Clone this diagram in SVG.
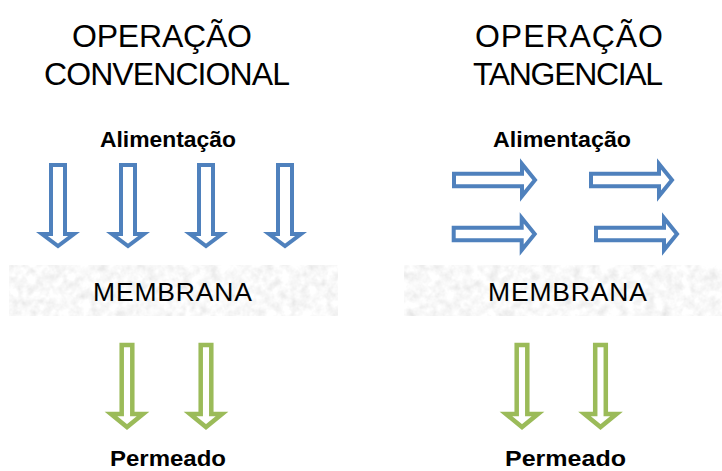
<svg xmlns="http://www.w3.org/2000/svg" width="722" height="471" viewBox="0 0 722 471">
<style>
.title{font-family:"Liberation Sans",Arial,sans-serif;font-size:32px;fill:#000}
.lbl{font-family:"Liberation Sans",Arial,sans-serif;font-size:22px;font-weight:bold;fill:#000}
.mem{font-family:"Liberation Sans",Arial,sans-serif;font-size:26.5px;fill:#000}
.blue{fill:#fff;stroke:#4f81bd;stroke-width:4;stroke-linejoin:miter}
.green{fill:#fff;stroke:#9bbb59;stroke-width:4.5;stroke-linejoin:miter}
.membrane{fill:#eaeaea}
</style>
<defs>
<filter id="grain" x="0" y="0" width="100%" height="100%">
<feTurbulence type="fractalNoise" baseFrequency="0.11" numOctaves="3" seed="7" result="n"/>
<feColorMatrix in="n" type="matrix" values="0.2 0.2 0.2 0 0.64  0.2 0.2 0.2 0 0.64  0.2 0.2 0.2 0 0.64  0 0 0 0 1" result="g"/>
<feComposite in="g" in2="SourceGraphic" operator="in"/>
</filter>
<path id="down" d="M -7,0 H 7 V 69 H 16 L 0 81 L -16 69 H -7 Z"/>
<path id="downG" d="M -5.3,0 H 5.3 V 69 H 16 L 0 82 L -16 69 H -5.3 Z"/>
<path id="right" d="M 0,-6.3 H 68 V -16 L 81,0 L 68,16 V 6.3 H 0 Z"/>
</defs>
<rect width="722" height="471" fill="#fff"/>

<g id="title-left">
<text class="title" x="72" y="47" textLength="180">OPERAÇÃO</text>
<text class="title" x="44" y="85" textLength="246">CONVENCIONAL</text>
</g>
<g id="title-right">
<text class="title" x="475" y="47" textLength="188">OPERAÇÃO</text>
<text class="title" x="473" y="85" textLength="190">TANGENCIAL</text>
</g>

<g id="feed-left">
<text class="lbl" x="100" y="147" textLength="136" lengthAdjust="spacingAndGlyphs">Alimentação</text>
</g>
<g id="feed-right">
<text class="lbl" x="493" y="147" textLength="138" lengthAdjust="spacingAndGlyphs">Alimentação</text>
</g>

<g id="membrane-left">
<rect class="membrane" x="9" y="265" width="329" height="51" filter="url(#grain)"/>
<text class="mem" x="93" y="301" textLength="159">MEMBRANA</text>
</g>
<g id="membrane-right">
<rect class="membrane" x="404" y="265" width="318" height="51" filter="url(#grain)"/>
<text class="mem" x="488" y="301" textLength="159">MEMBRANA</text>
</g>

<g id="permeate-left">
<text class="lbl" x="110" y="466" textLength="116" lengthAdjust="spacingAndGlyphs">Permeado</text>
</g>
<g id="permeate-right">
<text class="lbl" x="505" y="466" textLength="121" lengthAdjust="spacingAndGlyphs">Permeado</text>
</g>

<g id="connectors">
<use href="#down" class="blue" transform="translate(58,165)"/>
<use href="#down" class="blue" transform="translate(128,165)"/>
<use href="#down" class="blue" transform="translate(206,165)"/>
<use href="#down" class="blue" transform="translate(285,165)"/>
<use href="#right" class="blue" transform="translate(454,180)"/>
<use href="#right" class="blue" transform="translate(591,180)"/>
<use href="#right" class="blue" transform="translate(453.7,234)"/>
<use href="#right" class="blue" transform="translate(596,234)"/>
<use href="#downG" class="green" transform="translate(127,345)"/>
<use href="#downG" class="green" transform="translate(206,345)"/>
<use href="#downG" class="green" transform="translate(522,345)"/>
<use href="#downG" class="green" transform="translate(600.5,345)"/>
</g>
</svg>
